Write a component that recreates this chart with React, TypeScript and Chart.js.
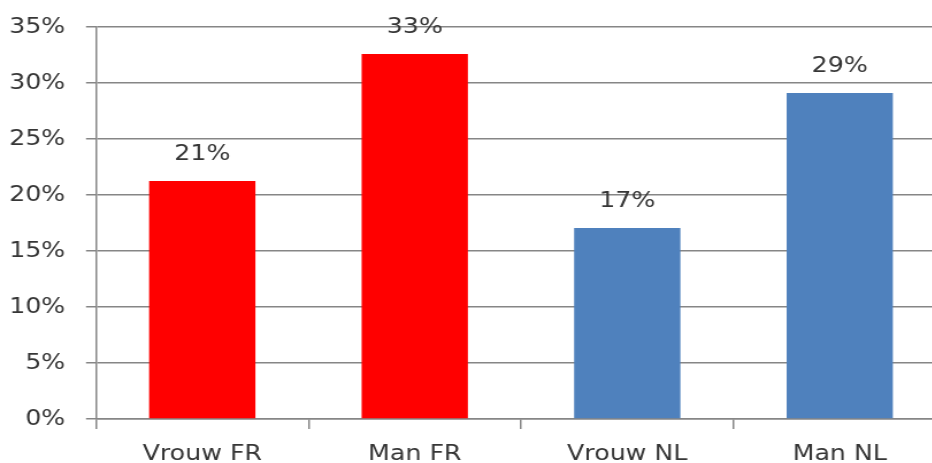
import React, { useEffect, useRef } from "react";
import { Chart, registerables } from "chart.js";

Chart.register(...registerables);

const categories = ["Vrouw FR", "Man FR", "Vrouw NL", "Man NL"];
const values = [21.25, 32.6, 17.05, 29.1];
const valueLabels = ["21%", "33%", "17%", "29%"];
const barColors = ["#FF0000", "#FF0000", "#4F81BD", "#4F81BD"];

const FONT = "'DejaVu Sans', sans-serif";
const STRETCH = 1.15;

const labelPlugin = {
  id: "barLabels",
  afterDatasetsDraw(chart: any) {
    const ctx = chart.ctx;
    const meta = chart.getDatasetMeta(0);
    ctx.save();
    ctx.font = `22px ${FONT}`;
    ctx.fillStyle = "#363636";
    ctx.textAlign = "center";
    ctx.textBaseline = "middle";
    meta.data.forEach((bar: any, i: number) => {
      ctx.fillText(valueLabels[i], bar.x, bar.y - 27);
    });
    ctx.restore();
  },
};

export default function App() {
  const ref = useRef<HTMLCanvasElement>(null);
  useEffect(() => {
    document.body.style.margin = "0";
    const chart = new Chart(ref.current!, {
      type: "bar",
      data: {
        labels: categories,
        datasets: [
          {
            data: values,
            backgroundColor: barColors,
            barPercentage: 0.5,
            categoryPercentage: 1,
          },
        ],
      },
      options: {
        responsive: false,
        animation: false,
        layout: { padding: { top: 27, right: 12.4, left: 0, bottom: 0 } },
        plugins: { legend: { display: false }, tooltip: { enabled: false } },
        scales: {
          x: {
            offset: true,
            grid: {
              offset: true,
              drawOnChartArea: false,
              drawTicks: true,
              tickLength: 10,
              color: "#868686",
              lineWidth: 1.5,
            },
            border: { color: "#868686", width: 1.5 },
            ticks: { color: "#363636", font: { family: FONT, size: 22 }, padding: 12 },
            afterFit: (s: any) => {
              s.height = 44;
              s.paddingLeft = 0;
              s.paddingRight = 0;
            },
          },
          y: {
            min: 0,
            max: 35,
            ticks: {
              stepSize: 5,
              color: "#363636",
              font: { family: FONT, size: 22 },
              padding: 18,
              callback: (v: any) => `${v}%`,
            },
            grid: { color: "#868686", tickLength: 8.7, lineWidth: 1.5 },
            border: { color: "#868686", width: 1.5 },
            afterFit: (s: any) => {
              s.width = 96 / STRETCH;
              s.paddingTop = 0;
              s.paddingBottom = 0;
            },
          },
        },
      },
      plugins: [labelPlugin],
    });
    return () => chart.destroy();
  }, []);
  return (
    <div style={{ position: "fixed", left: 0, top: 0, width: 932, height: 463, overflow: "hidden", background: "#fff" }}>
      <div style={{ transform: `scaleX(${STRETCH})`, transformOrigin: "0 0", width: 835, height: 463 }}>
        <canvas ref={ref} width={835} height={463} style={{ display: "block" }} />
      </div>
    </div>
  );
}
